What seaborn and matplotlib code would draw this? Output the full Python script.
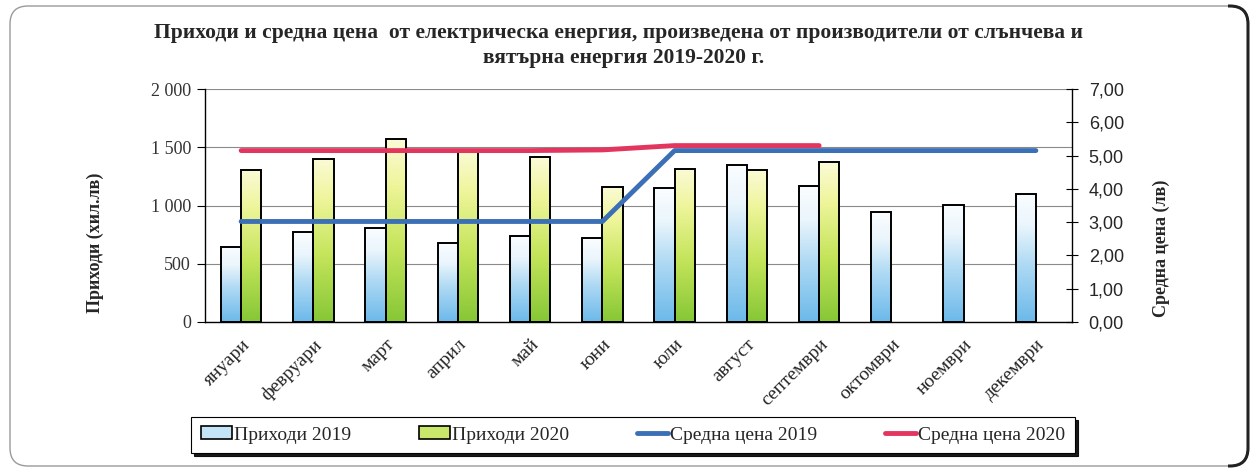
import numpy as np
import pandas as pd
import matplotlib
matplotlib.use("Agg")
import matplotlib.pyplot as plt
from matplotlib.patches import Patch, FancyBboxPatch
from matplotlib.lines import Line2D
from matplotlib.ticker import FuncFormatter, MultipleLocator
from matplotlib.transforms import Bbox
import seaborn as sns

# Данни (хил. лв и лв)
months = ['януари', 'февруари', 'март', 'април', 'май', 'юни', 'юли',
          'август', 'септември', 'октомври', 'ноември', 'декември']
rev_2019 = [645, 770, 810, 675, 740, 720, 1150, 1345, 1165, 940, 1005, 1100]
rev_2020 = [1305, 1400, 1570, 1480, 1420, 1160, 1315, 1305, 1370, np.nan, np.nan, np.nan]
price_2019 = [3.02, 3.02, 3.02, 3.02, 3.02, 3.02, 5.15, 5.15, 5.15, 5.15, 5.15, 5.15]
price_2020 = [5.15, 5.15, 5.15, 5.15, 5.15, 5.17, 5.30, 5.30, 5.30, np.nan, np.nan, np.nan]

lbl_r19, lbl_r20 = 'Приходи 2019', 'Приходи 2020'
lbl_p19, lbl_p20 = 'Средна цена 2019', 'Средна цена 2020'

sns.set_style('white')
plt.rcParams['font.family'] = ['Liberation Serif', 'DejaVu Serif']

df = pd.DataFrame({'month': months * 2,
                   'year': [lbl_r19] * 12 + [lbl_r20] * 12,
                   'value': rev_2019 + rev_2020}).dropna()
dfp = pd.DataFrame({'idx': range(12), 'p19': price_2019, 'p20': price_2020})

col19, col20 = '#8fcaf0', '#b5dc55'
blue, red = '#3b6fb6', '#e2365f'

fig = plt.figure(figsize=(12.52, 4.71), dpi=100)
ax = fig.add_axes([205 / 1252, 1 - 322 / 471, 867 / 1252, 233 / 471])

sns.barplot(data=df, x='month', y='value', hue='year', order=months,
            hue_order=[lbl_r19, lbl_r20], palette=[col19, col20],
            width=0.56, edgecolor='black', linewidth=1.4, legend=False,
            saturation=1, ax=ax)

# Градиент в стълбовете
def ramp(stops, n=100):
    pos = np.linspace(0, 1, n)
    cols = np.array([matplotlib.colors.to_rgb(c) for _, c in stops])
    ps = [p for p, _ in stops]
    out = np.stack([np.interp(pos, ps, cols[:, k]) for k in range(3)], axis=1)
    return out[:, None, :]

g19 = ramp([(0, '#6cb9ea'), (0.45, '#b0daf4'), (0.75, '#eaf5fc'), (1, '#fafdff')])
g20 = ramp([(0, '#86c736'), (0.4, '#c4e45a'), (0.75, '#eef59a'), (1, '#fbfbd6')])
for p in list(ax.patches):
    h = p.get_height()
    if not np.isfinite(h) or h <= 0:
        continue
    fc = matplotlib.colors.to_hex(p.get_facecolor())
    grad = g19 if fc == col19 else g20
    x0 = p.get_x()
    im = ax.imshow(grad, extent=[x0, x0 + p.get_width(), 0, h], origin='lower',
                   aspect='auto', zorder=0.9, interpolation='bilinear')
    im.set_clip_path(p)
    p.set_facecolor('none')
    p.set_zorder(1)

ax.set_xlim(-0.5, 11.5)
ax.set_ylim(0, 2000)
ax.set_axisbelow(True)
ax.yaxis.set_major_locator(MultipleLocator(500))
ax.yaxis.set_major_formatter(FuncFormatter(lambda v, _: f'{int(v):,}'.replace(',', ' ')))
ax.grid(axis='y', color='#8a8a8a', linewidth=0.8)
ax.grid(axis='x', visible=False)
for s in ['top', 'right']:
    ax.spines[s].set_visible(False)
for s in ['left', 'bottom']:
    ax.spines[s].set_color('black')
    ax.spines[s].set_linewidth(1.0)
ax.set_xticks(range(12))
ax.set_xticklabels(months, rotation=45, ha='right', rotation_mode='anchor', fontsize=14)
ax.set_xticks(np.arange(-0.5, 12, 1), minor=True)
ax.tick_params(axis='x', which='major', length=0, pad=10)
ax.tick_params(axis='x', which='minor', length=6, direction='out', color='black')
ax.tick_params(axis='y', length=6, direction='out', color='black',
               labelsize=13, labelcolor='#333333', pad=4)
ax.set_xlabel('')
ax.set_ylabel('')

ax2 = ax.twinx()
sns.lineplot(data=dfp, x='idx', y='p19', color=blue, linewidth=3.5, ax=ax2)
sns.lineplot(data=dfp, x='idx', y='p20', color=red, linewidth=3.5, ax=ax2)
ax2.set_xlim(-0.5, 11.5)
ax2.set_ylim(0, 7)
ax2.yaxis.set_major_locator(MultipleLocator(1))
ax2.yaxis.set_major_formatter(FuncFormatter(lambda v, _: f'{v:.2f}'.replace('.', ',')))
ax2.grid(False)
for s in ['top', 'left', 'bottom']:
    ax2.spines[s].set_visible(False)
ax2.spines['right'].set_color('black')
ax2.spines['right'].set_linewidth(1.0)
ax2.tick_params(axis='y', length=8, direction='inout', color='black', pad=8)
for t in ax2.get_yticklabels():
    t.set_fontfamily('Liberation Sans')
    t.set_fontsize(13)
ax2.set_xlabel('')
ax2.set_ylabel('')

# Текстове
fig.text(619 / 1252, 1 - 33 / 471,
         'Приходи и средна цена  от електрическа енергия, произведена от производители от слънчева и',
         ha='center', va='center', fontsize=15.5, fontweight='bold')
fig.text(624 / 1252, 1 - 58 / 471, 'вятърна енергия 2019-2020 г.',
         ha='center', va='center', fontsize=15.5, fontweight='bold')
fig.text(95 / 1252, 1 - 243 / 471, 'Приходи (хил.лв)', rotation=90,
         ha='center', va='center', fontsize=13, fontweight='bold')
fig.text(1161 / 1252, 1 - 248 / 471, 'Средна цена (лв)', rotation=90,
         ha='center', va='center', fontsize=13, fontweight='bold')

handles = [Patch(facecolor='#c4e4f7', edgecolor='black', linewidth=1.2),
           Patch(facecolor='#c9e76a', edgecolor='black', linewidth=1.2),
           Line2D([], [], color=blue, linewidth=3.5),
           Line2D([], [], color=red, linewidth=3.5)]
leg = fig.legend(handles, [lbl_r19, lbl_r20, lbl_p19, lbl_p20], ncol=4,
                 loc='center', bbox_to_anchor=(633 / 1252, 1 - 435 / 471),
                 frameon=True, fancybox=False, edgecolor='black',
                 shadow={'color': 'black', 'alpha': 0.9},
                 fontsize=14, handlelength=1.6, handleheight=0.6,
                 handletextpad=0.1, columnspacing=3.5, borderpad=0.5)
leg.get_frame().set_linewidth(0.8)

# Рамка около диаграмата: светла отляво, тъмна и дебела отдясно
frame_light = FancyBboxPatch((10, 5), 1238, 460, boxstyle='round,pad=0,rounding_size=18',
                             transform=None, facecolor='none',
                             edgecolor='#9a9a9a', linewidth=1.0)
frame_dark = FancyBboxPatch((10, 5), 1238, 460, boxstyle='round,pad=0,rounding_size=18',
                            transform=None, facecolor='none',
                            edgecolor='#222222', linewidth=2.2)
frame_dark.set_clip_box(Bbox([[1228, 0], [1252, 471]]))
fig.patches.extend([frame_light, frame_dark])

fig.savefig('out.png', dpi=100)
